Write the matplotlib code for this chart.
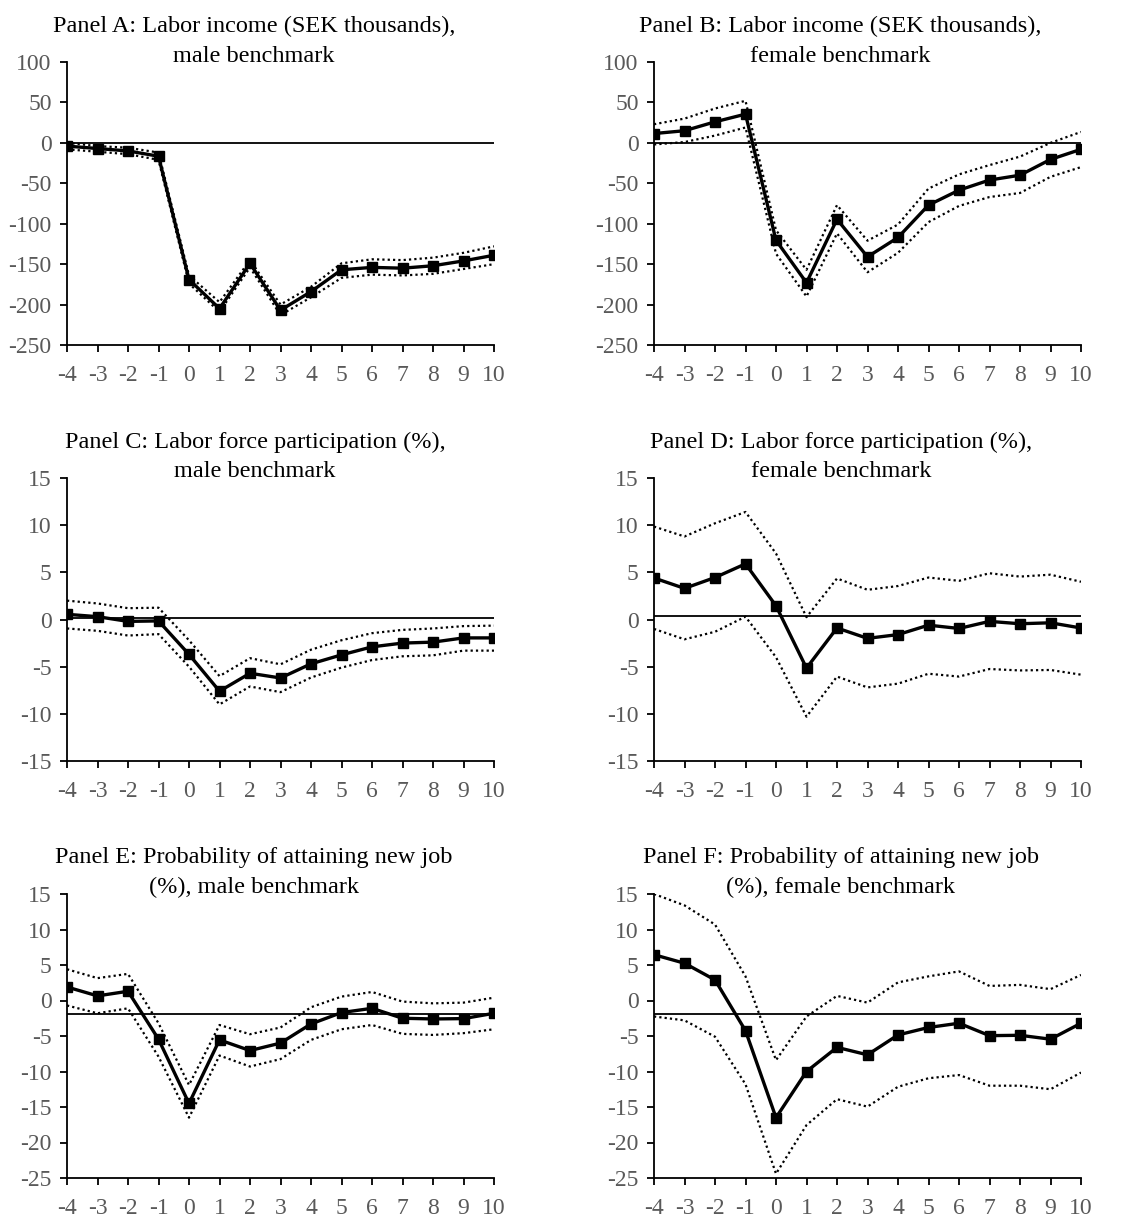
import matplotlib
matplotlib.use("Agg")
import matplotlib.pyplot as plt

plt.rcParams['font.family'] = ['Liberation Serif', 'DejaVu Serif']
plt.rcParams['axes.unicode_minus'] = False

years = [-4, -3, -2, -1, 0, 1, 2, 3, 4, 5, 6, 7, 8, 9, 10]
year_labels = [str(y) for y in years]

titles = [
    ("Panel A: Labor income (SEK thousands),", "male benchmark"),
    ("Panel B: Labor income (SEK thousands),", "female benchmark"),
    ("Panel C: Labor force participation (%),", "male benchmark"),
    ("Panel D: Labor force participation (%),", "female benchmark"),
    ("Panel E: Probability of attaining new job", "(%), male benchmark"),
    ("Panel F: Probability of attaining new job", "(%), female benchmark"),
]

# point estimates
est_a = [-4, -7, -10, -16.5, -169, -205, -149, -207, -184, -157, -154, -155, -152, -146, -139]
est_b = [11.5, 15, 26, 35.5, -120.5, -173, -94.5, -141, -117, -77, -58.5, -46, -40, -20.5, -8]
est_c = [0.55, 0.3, -0.2, -0.15, -3.7, -7.6, -5.7, -6.2, -4.7, -3.75, -2.9, -2.5, -2.4, -1.95, -1.95]
est_d = [4.4, 3.3, 4.45, 5.9, 1.45, -5.15, -0.9, -2.0, -1.6, -0.6, -0.95, -0.2, -0.45, -0.35, -0.9]
est_e = [1.9, 0.65, 1.3, -5.45, -14.5, -5.55, -7.05, -6.0, -3.3, -1.7, -1.1, -2.5, -2.6, -2.55, -1.8]
est_f = [6.45, 5.25, 2.9, -4.25, -16.5, -10.0, -6.6, -7.65, -4.85, -3.8, -3.2, -4.95, -4.9, -5.45, -3.2]

# upper confidence bounds
hi_a = [0, -4, -6, -12, -164, -197, -145, -200, -178, -149, -144, -145, -142, -136, -128]
hi_b = [23, 30, 42.5, 52, -108, -157, -77, -121, -101, -56.5, -39, -27.5, -17, 0, 13.5]
hi_c = [2.0, 1.7, 1.2, 1.25, -2.2, -6.0, -4.1, -4.75, -3.2, -2.2, -1.45, -1.1, -0.95, -0.7, -0.65]
hi_d = [9.85, 8.8, 10.2, 11.4, 7.0, 0.25, 4.35, 3.15, 3.55, 4.45, 4.1, 4.9, 4.55, 4.75, 4.0]
hi_e = [4.4, 3.15, 3.75, -3.2, -11.9, -3.45, -4.75, -3.8, -0.95, 0.55, 1.2, -0.15, -0.4, -0.3, 0.4]
hi_f = [15.0, 13.4, 10.7, 3.4, -8.4, -2.25, 0.65, -0.3, 2.55, 3.4, 4.1, 2.05, 2.2, 1.6, 3.6]

# lower confidence bounds
lo_a = [-8, -11, -14, -21, -174, -209, -154, -213, -191, -167, -163, -164, -162, -156, -150]
lo_b = [-2, 1, 9, 19, -137, -190, -112, -160, -136, -98, -78, -67, -62, -42, -30]
lo_c = [-0.95, -1.2, -1.7, -1.55, -5.0, -9.0, -7.1, -7.7, -6.15, -5.1, -4.3, -3.9, -3.8, -3.3, -3.3]
lo_d = [-1.0, -2.1, -1.3, 0.3, -4.0, -10.3, -6.05, -7.2, -6.8, -5.75, -6.05, -5.25, -5.4, -5.35, -5.85]
lo_e = [-0.7, -1.8, -1.1, -7.9, -16.5, -7.75, -9.3, -8.25, -5.55, -4.05, -3.45, -4.7, -4.85, -4.6, -4.05]
lo_f = [-2.25, -2.8, -5.1, -11.8, -24.4, -17.55, -13.9, -14.95, -12.15, -10.95, -10.5, -12.0, -12.0, -12.5, -10.15]

# horizontal reference level per panel
ref_levels = [0, 0, 0.2, 0.35, -1.9, -1.85]

y_limits = [(-250, 100), (-250, 100), (-15, 15), (-15, 15), (-25, 15), (-25, 15)]
y_steps = [50, 50, 5, 5, 5, 5]

estimates = [est_a, est_b, est_c, est_d, est_e, est_f]
uppers = [hi_a, hi_b, hi_c, hi_d, hi_e, hi_f]
lowers = [lo_a, lo_b, lo_c, lo_d, lo_e, lo_f]

W, H = 1147, 1218
fig = plt.figure(figsize=(W / 100, H / 100), dpi=100)

# panel boxes in pixels: left, top, right, bottom
boxes = [
    (67, 62, 494, 345), (654, 62, 1081, 345),
    (67, 478, 494, 761), (654, 478, 1081, 761),
    (67, 894, 494, 1178), (654, 894, 1081, 1178),
]
# title centre x and the two baselines
title_pos = [(254, 32, 62), (840, 32, 62), (255, 448, 477), (841, 448, 477),
             (254, 863, 893), (841, 863, 893)]

tick_gray = '#595959'
dots = (0, (1, 1.4))

for i in range(6):
    l, t, r, b = boxes[i]
    ax = fig.add_axes([l / W, 1 - b / H, (r - l) / W, (b - t) / H])
    lo_y, hi_y = y_limits[i]

    ax.axhline(ref_levels[i], color='black', lw=1.3, zorder=1)
    ax.plot(years, uppers[i], color='black', lw=1.6, linestyle=dots, zorder=2)
    ax.plot(years, lowers[i], color='black', lw=1.6, linestyle=dots, zorder=2)
    ax.plot(years, estimates[i], color='black', lw=2.4, marker='s', markersize=6.5, zorder=3)

    ax.set_xlim(-4, 10)
    ax.set_ylim(lo_y, hi_y)
    ax.set_xticks(years)
    ax.set_xticklabels(year_labels)
    yt = list(range(lo_y, hi_y + 1, y_steps[i]))
    ax.set_yticks(yt)
    ax.set_yticklabels([str(v) for v in yt])

    for side in ['top', 'right']:
        ax.spines[side].set_visible(False)
    for side in ['left', 'bottom']:
        ax.spines[side].set_linewidth(1.3)
    ax.tick_params(axis='both', direction='out', length=5, width=1.3,
                   labelsize=17, labelcolor=tick_gray, color='black')
    ax.tick_params(axis='x', pad=9.5)
    ax.tick_params(axis='y', pad=6)
    for sp in ax.spines.values():
        sp.set_clip_on(False)

    tx, y1, y2 = title_pos[i]
    fig.text(tx / W, 1 - y1 / H, titles[i][0], ha='center', va='baseline',
             fontsize=17.5, color='black')
    fig.text(tx / W, 1 - y2 / H, titles[i][1], ha='center', va='baseline',
             fontsize=17.5, color='black')

fig.savefig('out.png', dpi=100)
